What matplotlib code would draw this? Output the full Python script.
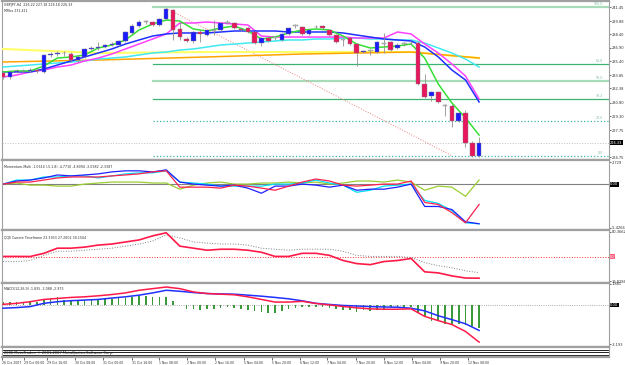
import matplotlib.pyplot as plt

# GBPJPY H4 candles, oldest first
opens = [234.11, 233.66, 234.22, 234.33, 234.33, 234.44, 234.22, 236.11, 236.22, 236.33,
         236.22, 235.55, 235.89, 236.78, 236.89, 237.00, 237.22, 237.22, 237.67, 238.56,
         239.34, 239.78, 239.78, 239.45, 240.12, 241.12, 239.00, 237.89, 237.67, 238.67,
         238.33, 238.78, 238.89, 239.67, 239.67, 239.00, 239.11, 238.67, 237.44, 238.00,
         238.00, 237.78, 238.45, 239.34, 239.22, 238.45, 239.22, 239.34, 238.89, 238.33,
         237.78, 238.00, 237.33, 236.44, 236.55, 236.44, 237.33, 237.56, 236.89, 237.33,
         237.44, 237.44, 232.88, 231.55, 231.99, 230.43, 230.43, 228.76, 229.65, 226.31,
         224.87]
highs = [234.33, 234.44, 234.55, 234.55, 234.66, 234.66, 236.22, 236.44, 236.55, 236.55,
         236.44, 236.11, 236.89, 237.11, 237.56, 237.33, 237.56, 237.78, 238.78, 239.56,
         240.00, 240.00, 239.89, 240.23, 241.34, 241.23, 239.78, 238.11, 238.78, 238.89,
         238.89, 240.00, 239.67, 240.00, 239.78, 239.11, 239.22, 238.78, 238.11, 238.11,
         238.11, 238.56, 239.22, 239.56, 239.34, 239.00, 239.45, 239.45, 239.00, 238.45,
         238.00, 238.11, 237.44, 236.66, 236.78, 237.67, 238.56, 237.67, 237.44, 237.56,
         237.67, 237.67, 234.00, 232.10, 232.10, 230.66, 230.66, 229.76, 230.00, 226.54,
         226.98]
lows = [233.44, 233.44, 234.11, 234.11, 234.22, 234.11, 234.11, 235.89, 236.00, 236.00,
        235.33, 235.33, 235.77, 236.66, 236.66, 236.89, 237.11, 237.11, 237.56, 238.45,
        239.22, 239.56, 239.34, 239.34, 240.00, 237.78, 237.78, 237.56, 237.44, 237.56,
        238.22, 238.33, 238.78, 239.56, 239.00, 238.78, 238.56, 237.33, 237.11, 237.56,
        237.78, 237.67, 238.33, 239.11, 238.33, 238.33, 239.11, 239.00, 238.22, 237.44,
        237.11, 237.22, 234.88, 236.33, 236.11, 236.33, 236.33, 236.55, 236.78, 237.11,
        237.22, 232.77, 231.32, 231.01, 230.77, 229.32, 228.10, 228.65, 225.87, 224.76,
        224.76]
closes = [233.66, 234.22, 234.33, 234.28, 234.44, 234.33, 236.11, 236.22, 236.33, 236.28,
          235.55, 235.89, 236.78, 236.89, 237.00, 237.22, 237.33, 237.67, 238.67, 239.34,
          239.78, 239.78, 239.45, 240.12, 241.23, 238.89, 238.11, 237.67, 238.67, 238.45,
          238.89, 238.78, 239.67, 239.67, 239.11, 238.89, 238.67, 237.44, 238.00, 237.67,
          238.00, 238.45, 239.11, 239.34, 238.45, 238.89, 239.22, 239.11, 238.33, 237.56,
          237.78, 237.33, 236.33, 236.55, 236.55, 237.56, 237.33, 236.66, 237.22, 237.33,
          237.44, 232.88, 231.43, 231.99, 230.88, 230.43, 228.76, 229.65, 226.31, 224.87,
          226.33]

# moving averages, read every second bar
ma_idx = list(range(0, 71, 2))
ma_green = [234.22, 234.33, 234.33, 234.88, 235.77, 235.89, 236.11, 236.89, 237.22, 237.78,
            238.89, 239.56, 240.00, 239.89, 239.00, 238.78, 239.11, 239.34, 238.78, 237.89,
            238.11, 238.56, 238.89, 239.00, 238.89, 238.22, 237.33, 236.89, 237.00, 237.11,
            237.33, 235.77, 232.88, 230.77, 229.10, 227.20]
ma_blue = [234.22, 234.22, 234.22, 234.55, 234.99, 235.44, 235.89, 236.33, 236.78, 237.33,
           237.78, 238.22, 238.45, 238.56, 238.56, 238.56, 238.67, 238.78, 238.78, 238.78,
           238.78, 238.67, 238.67, 238.67, 238.67, 238.56, 238.33, 238.11, 237.89, 237.78,
           237.67, 237.00, 235.89, 234.44, 233.33, 230.88]
ma_magenta = [233.66, 233.88, 234.22, 234.44, 234.77, 234.99, 235.44, 235.77, 236.22, 236.78,
              237.33, 237.89, 238.45, 239.67, 239.67, 239.78, 239.67, 239.56, 239.45, 238.22,
              238.11, 238.11, 238.11, 238.11, 238.11, 238.11, 238.00, 238.00, 238.00, 238.67,
              238.45, 237.33, 236.33, 235.11, 233.77, 231.21]
ma_cyan = [234.77, 234.88, 234.99, 235.11, 235.22, 235.33, 235.44, 235.66, 235.77, 235.89,
           236.11, 236.33, 236.44, 236.66, 236.78, 237.00, 237.22, 237.33, 237.44, 237.56,
           237.67, 237.78, 237.78, 237.89, 237.89, 238.00, 238.00, 237.89, 237.89, 237.78,
           237.78, 237.44, 236.89, 236.33, 235.66, 234.77]
slow_idx = [0, 14, 30, 44, 60, 70]
ma_yellow = [236.78, 236.33, 236.44, 236.44, 236.44, 235.77]
ma_orange = [235.33, 235.55, 235.89, 236.22, 236.44, 235.77]

trend_idx = [24, 66]
trend_price = [241.30, 224.90]

fib_high, fib_low = 241.45, 224.90
fib_levels = [100.0, 61.8, 50.0, 38.2, 23.6, 0.0]
last_price = 226.33

price_ticks = [241.45, 239.88, 238.40, 236.90, 235.40, 233.85, 232.38, 230.80, 229.30, 227.75, 224.75]

# Momentum-Multi
mom_blue = [0, .38, .50, .76, 1.13, 1.01, 1.13, 1.26, 1.51, 1.64, 1.64, 1.51, 1.76, .25, 0, -.13,
            -.25, -.13, -.50, -1.13, -.25, -.25, 0, -.13, -.38, -.13, -.76, -.63, -.63, -.38, 0,
            -2.77, -2.77, -3.15, -4.66, -4.91]
mom_cyan = [0, .50, .50, .88, .88, 1.01, 1.01, .76, 1.01, 1.26, 1.39, 1.39, 1.64, .25, .13, 0,
            -.25, -.25, -.25, -.25, 0, 0, .13, .50, .13, -.13, -1.01, -.76, -.25, -.13, 0,
            -2.02, -2.39, -3.28, -4.79, -4.91]
mom_red = [0, .25, .25, .50, .76, .88, .88, .88, 1.01, 1.13, 1.26, 1.51, 1.64, -.38, -.38, -.38,
           -.50, -.13, -.25, -.50, -.76, -.25, .25, .63, .38, -.13, -.25, -.13, 0, 0, .38,
           -2.27, -2.52, -3.53, -4.79, -2.52]
mom_olive = [0, .13, -.13, -.13, -.25, -.25, 0, .13, .25, .25, .25, .13, .13, -.63, -.13, .13,
             .25, 0, 0, .13, .13, .25, .13, .25, 0, .13, .38, .38, .25, .50, .25, -.76, -.25,
             -.38, -1.51, .50]

# QQE
qqe_rsi = [50.1, 50.1, 50.0, 53.9, 60.2, 60.2, 61.5, 64.0, 65.3, 67.8, 70.3, 75.3, 79.1, 62.7,
           60.2, 57.7, 58.9, 58.9, 57.7, 55.2, 50.1, 50.1, 53.9, 53.9, 51.4, 45.1, 41.3, 40.0,
           43.8, 45.1, 47.6, 31.2, 29.9, 26.2, 23.6, 23.4]
qqe_trail = [43.8, 43.8, 45.1, 51.4, 56.4, 56.4, 57.7, 58.9, 60.2, 62.7, 65.3, 69.0, 76.6, 72.8,
             67.8, 66.5, 65.3, 65.3, 64.0, 60.2, 58.9, 57.7, 58.9, 58.9, 58.9, 56.4, 51.4, 50.1,
             50.1, 50.1, 48.8, 42.5, 38.7, 36.2, 32.4, 30.2]

# MACD histogram per bar, lines every second bar
macd_hist = [.21, .21, .21, .21, .21, .21, .44, .52, .60, .39, .39, .34, .39, .44, .39, .44, .44,
             .52, .52, .65, .70, .70, .60, .65, .65, .34, .02, -.34, -.34, -.39, -.34, -.34, -.26,
             -.18, -.26, -.34, -.44, -.52, -.60, -.65, -.65, -.52, -.34, -.26, -.18, -.18, -.13,
             -.13, -.26, -.34, -.39, -.44, -.60, -.44, -.52, -.44, -.34, -.18, -.13, -.13, -.13,
             -.65, -.96, -1.30, -1.30, -1.48, -1.56, -1.48, -1.56, -1.69, -1.84]
macd_red = [.05, .13, .26, .44, .52, .60, .65, .73, .83, .96, 1.17, 1.30, 1.43, 1.30, 1.04, .91,
            .86, .81, .65, .44, .23, .23, .29, .12, 0, -.12, -.23, -.31, -.34, -.34, -.31, -.91,
            -1.25, -1.56, -2.11, -2.96]
macd_blue = [-.26, -.21, -.13, .13, .26, .34, .39, .44, .55, .65, .78, .96, 1.17, 1.09, .99, .91,
             .88, .86, .78, .70, .60, .49, .33, .13, .04, -.04, -.08, -.13, -.16, -.18, -.26,
             -.47, -.86, -1.17, -1.50, -2.03]

date_idx = [-0.1, 3.1, 6.5, 10.6, 14.7, 18.9, 23.0, 27.1, 31.2, 35.4, 39.5, 43.6, 47.7, 51.9,
            56.0, 60.1, 64.2, 68.4]
date_labels = ["26 Oct 2007", "29 Oct 00:00", "29 Oct 16:00", "30 Oct 08:00", "31 Oct 00:00",
               "31 Oct 16:00", "1 Nov 08:00", "2 Nov 00:00", "2 Nov 16:00", "5 Nov 04:00",
               "5 Nov 20:00", "6 Nov 12:00", "7 Nov 04:00", "7 Nov 20:00", "8 Nov 12:00",
               "9 Nov 04:00", "9 Nov 20:00", "12 Nov 08:00"]

W, H = 625, 365
fig = plt.figure(figsize=(6.25, 3.65), dpi=100)
fig.patch.set_facecolor('white')

FS = 2.6
GRID = '#a0a0a0'


def panel(top, bottom):
    ax = fig.add_axes([2 / W, 1 - bottom / H, 607 / W, (bottom - top) / H])
    ax.set_xlim(-0.15, 89.1)
    for s in ax.spines.values():
        s.set_color(GRID)
        s.set_linewidth(0.8)
    ax.spines['top'].set_linewidth(1.6)
    ax.spines['bottom'].set_linewidth(1.6)
    ax.set_xticks([])
    ax.yaxis.tick_right()
    ax.tick_params(axis='y', length=1.2, width=0.5, pad=0.6, labelsize=FS, colors='#303030')
    return ax


def box_label(ax, y, text, fc, tc='white'):
    ax.text(1.002, y, text, transform=ax.get_yaxis_transform(), fontsize=FS, color=tc,
            va='center', ha='left', clip_on=False,
            bbox=dict(boxstyle='square,pad=0.12', fc=fc, ec='none'))


# ---------- main price panel ----------
ax = panel(1, 160)
ax.set_ylim(224.42, 242.12)
ax.set_yticks(price_ticks)
ax.set_yticklabels([f"{p:.2f}" for p in price_ticks])

fib_colors = {100.0: '#a8dcb8', 61.8: '#3cb371', 50.0: '#a8dcb8', 38.2: '#3cb371',
              23.6: '#3cb3a0', 0.0: '#3cb3a0'}
for lv in fib_levels:
    p = fib_low + (fib_high - fib_low) * lv / 100
    light = lv in (100.0, 50.0)
    ls = ':' if lv in (23.6, 0.0) else '-'
    ax.plot([22, 89.1], [p, p], color=fib_colors[lv], lw=1.6 if light else 0.9, ls=ls, zorder=1)
    ax.text(88.2, p + 0.1, f"{lv:.1f}", fontsize=FS * 0.9, color='#7fbf9f', ha='right', va='bottom')

ax.axhline(last_price, color='#c0c0c0', lw=0.7, ls=':', zorder=1)
ax.plot(trend_idx, trend_price, color='#f08080', lw=0.7, ls=':', zorder=2)

ax.plot(slow_idx, ma_yellow, color='#ffff66', lw=1.5, zorder=3)
ax.plot(slow_idx, ma_orange, color='#ffa500', lw=1.1, zorder=3)
ax.plot(ma_idx, ma_cyan, color='#40e8f0', lw=1.1, zorder=3)
ax.plot(ma_idx, ma_magenta, color='#ff40ff', lw=1.1, zorder=3)
ax.plot(ma_idx, ma_blue, color='#2030ff', lw=1.1, zorder=3)
ax.plot(ma_idx, ma_green, color='#33e033', lw=1.1, zorder=3)

x = list(range(len(opens)))
ax.vlines(x, lows, highs, color='#909090', lw=0.6, zorder=4)
bottoms = [min(o, c) for o, c in zip(opens, closes)]
heights = [max(abs(c - o), 0.06) for o, c in zip(opens, closes)]
cols = ['#1a1aff' if c > o + 0.04 else ('#e8175d' if c < o - 0.04 else '#d0d0d0')
        for o, c in zip(opens, closes)]
ax.bar(x, heights, bottom=bottoms, width=0.66, color=cols, edgecolor='#808080', lw=0.3, zorder=5)

box_label(ax, last_price, f"{last_price:.2f}", 'black')
ax.text(0.004, 0.985, "GBPJPY,H4  226.22 227.18 226.18 226.33", transform=ax.transAxes,
        fontsize=FS * 0.9, va='top', color='#303030')
ax.text(0.004, 0.95, "MFibo 231.411", transform=ax.transAxes, fontsize=FS * 0.9, va='top',
        color='#303030')

# ---------- momentum panel ----------
ax = panel(160, 230)
ax.set_ylim(-5.68, 2.98)
ax.set_yticks([2.729, -5.4266])
ax.set_yticklabels(["2.729", "-5.4266"])
ax.axhline(0, color='#808080', lw=0.8)
ax.plot(ma_idx, mom_olive, color='#9acd32', lw=0.9)
ax.plot(ma_idx, mom_cyan, color='#00e0f0', lw=0.9)
ax.plot(ma_idx, mom_blue, color='#2020ff', lw=0.9)
ax.plot(ma_idx, mom_red, color='#ff2050', lw=0.9)
box_label(ax, 0, "0.00", 'black')
ax.text(0.004, 0.93, "Momentum-Multi -1.0614 (-5.1.8) -4.7710 -4.8094 -3.0982 -2.3387",
        transform=ax.transAxes, fontsize=FS * 0.9, va='top', color='#303030')

# ---------- QQE panel ----------
ax = panel(230, 283)
ax.set_ylim(17.5, 82.5)
ax.set_yticks([80.3662, 19.8286])
ax.set_yticklabels(["80.3662", "19.8286"])
ax.axhline(50, color='#ff3030', lw=0.7, ls=':')
ax.plot(ma_idx, qqe_trail, color='#808080', lw=0.7, ls=':')
ax.plot(ma_idx, qqe_rsi, color='#ff1a4a', lw=1.2)
box_label(ax, 50, "50", '#ff6080')
ax.text(0.004, 0.9, "QQE Current Timeframe 23.3933 27.2602 30.1504", transform=ax.transAxes,
        fontsize=FS * 0.9, va='top', color='#303030')

# ---------- MACD panel ----------
ax = panel(283, 347)
ax.set_ylim(-3.35, 1.75)
ax.set_yticks([1.881 * 0.9, -3.193 * 0.98])
ax.set_yticklabels(["1.881", "-3.193"])
ax.axhline(0, color='#909090', lw=0.6, ls=':')
ax.bar(x, macd_hist, width=0.24, color='#3a9a3a', zorder=2)
ax.plot(ma_idx, macd_blue, color='#2030ff', lw=1.1, zorder=3)
ax.plot(ma_idx, macd_red, color='#ff1a4a', lw=1.1, zorder=3)
box_label(ax, 0, "0.00", 'black')
ax.text(0.004, 0.93, "MACD(12,26,9) -1.835 -2.088 -2.973", transform=ax.transAxes,
        fontsize=FS * 0.9, va='top', color='#303030')

# ---------- squashed bottom panel + time axis ----------
ax = panel(347, 357)
ax.set_ylim(0, 1)
ax.set_yticks([])
for yy in (0.25, 0.5, 0.75):
    ax.axhline(yy, color='black', lw=0.6)
ax.text(0.004, 0.2, "2006 MetaTrader, \u00a9 2001-2007 MetaQuotes Software Corp.",
        transform=ax.transAxes, fontsize=FS, va='bottom', color='#202020')
ax.set_xticks(date_idx)
ax.set_xticklabels(date_labels, ha='left')
ax.tick_params(axis='x', length=2, width=0.5, pad=1, labelsize=FS * 0.88, colors='#303030')

fig.savefig('out.png', dpi=100)
